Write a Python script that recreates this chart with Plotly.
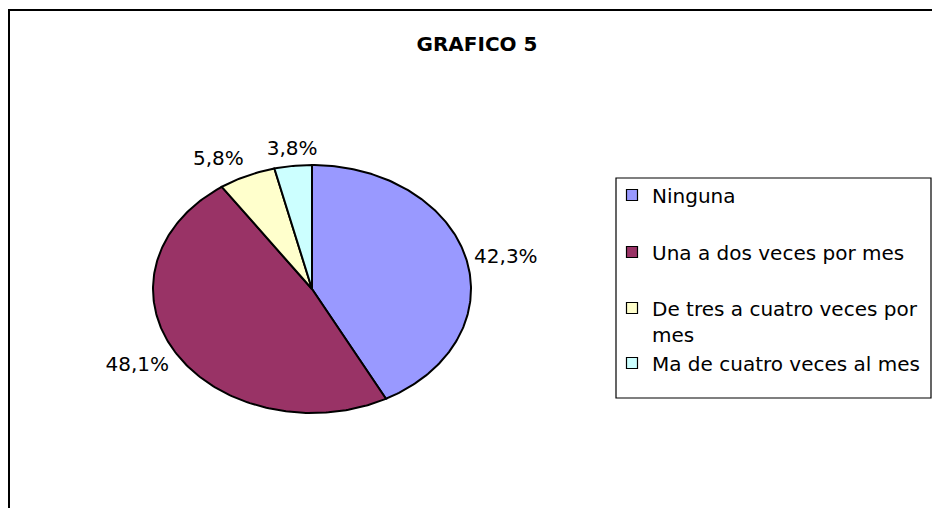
import numpy as np
import plotly.graph_objects as go

# ---- data ----
categories = ["Ninguna", "Una a dos veces por mes",
              "De tres a cuatro veces por mes", "Ma de cuatro veces al mes"]
legend_labels = ["Ninguna", "Una a dos veces por mes",
                 "De tres a cuatro veces por<br>mes", "Ma de cuatro veces al mes"]
percentages = [42.3, 48.1, 5.8, 3.8]
colors = ["#9999FF", "#993366", "#FFFFCC", "#CCFFFF"]
title_text = "GRAFICO 5"

# ---- geometry / style (pixel space) ----
W, H = 932, 508
CX, CY, RX, RY = 312, 289, 159, 124
FONT = "DejaVu Sans"
LABEL_F = 1.05
legend_y = [195, 252, 321, 363]   # vertical centres of legend entries (px)

fig = go.Figure()

total = sum(percentages)
start = 0.0
label_x, label_y, label_pos, label_txt = [], [], [], []
for i, (cat, p, c) in enumerate(zip(categories, percentages, colors)):
    frac0 = start / total
    frac1 = (start + p) / total
    n = max(int(400 * (frac1 - frac0)), 8)
    a = np.linspace(frac0, frac1, n) * 2 * np.pi
    xs = np.concatenate([[CX], CX + RX * np.sin(a), [CX]])
    ys = np.concatenate([[CY], CY - RY * np.cos(a), [CY]])
    txt = f"{p:.1f}%".replace(".", ",")
    fig.add_trace(go.Scatter(
        x=xs, y=ys, mode="lines", fill="toself", fillcolor=c,
        line=dict(color="black", width=2), showlegend=False,
        hoverinfo="text", hoveron="fills", text=f"{cat}: {txt}", name=cat))
    mid = (frac0 + frac1) / 2 * 2 * np.pi
    s, co = np.sin(mid), np.cos(mid)
    label_x.append(CX + RX * LABEL_F * s)
    label_y.append(CY - RY * LABEL_F * co)
    hpos = "right" if s > 0.3 else ("left" if s < -0.3 else "center")
    vpos = "top" if co > 0.5 else ("bottom" if co < -0.3 else "middle")
    if hpos == "center" and vpos == "middle":
        vpos = "top"
    label_pos.append(f"{vpos} {hpos}")
    label_txt.append(txt)
    start += p

fig.add_trace(go.Scatter(
    x=label_x, y=label_y, mode="text", text=label_txt,
    textposition=label_pos, textfont=dict(family=FONT, size=20, color="black"),
    showlegend=False, hoverinfo="skip"))

# legend-only traces, one legend each so entries keep Excel's spacing
for i, (lbl, c) in enumerate(zip(legend_labels, colors)):
    lname = "legend" if i == 0 else f"legend{i+1}"
    fig.add_trace(go.Scatter(
        x=[None], y=[None], mode="markers", name=lbl, legend=lname,
        marker=dict(symbol="square", size=11, color=c,
                    line=dict(color="black", width=1.2)),
        showlegend=True))

legend_common = dict(x=612 / W, xanchor="left", yanchor="middle",
                     bgcolor="rgba(0,0,0,0)", borderwidth=0, valign="top",
                     font=dict(family=FONT, size=20, color="black"),
                     itemclick=False, itemdoubleclick=False)
layout_legends = {}
for i, yc in enumerate(legend_y):
    lname = "legend" if i == 0 else f"legend{i+1}"
    layout_legends[lname] = dict(legend_common, y=1 - yc / H)

fig.update_layout(
    width=W, height=H, margin=dict(l=0, r=0, t=0, b=0),
    paper_bgcolor="white", plot_bgcolor="white",
    xaxis=dict(range=[0, W], visible=False, fixedrange=True),
    yaxis=dict(range=[H, 0], visible=False, fixedrange=True),
    title=dict(text=f"<b>{title_text}</b>", x=477 / W, xanchor="center",
               y=1 - 44 / H, yanchor="middle",
               font=dict(family=FONT, size=20, color="black")),
    shapes=[
        dict(type="rect", xref="x", yref="y", x0=9, y0=10, x1=W + 20, y1=H + 20,
             line=dict(color="black", width=2), fillcolor="rgba(0,0,0,0)",
             layer="below"),
        dict(type="rect", xref="x", yref="y", x0=616, y0=178, x1=931, y1=398,
             line=dict(color="black", width=1.2), fillcolor="rgba(0,0,0,0)",
             layer="below"),
    ],
    showlegend=True,
    **layout_legends,
)

fig.write_html("out.html",
               config={"displayModeBar": False},
               post_script="document.body.style.margin='0';"
                           "document.body.style.overflow='hidden';")
